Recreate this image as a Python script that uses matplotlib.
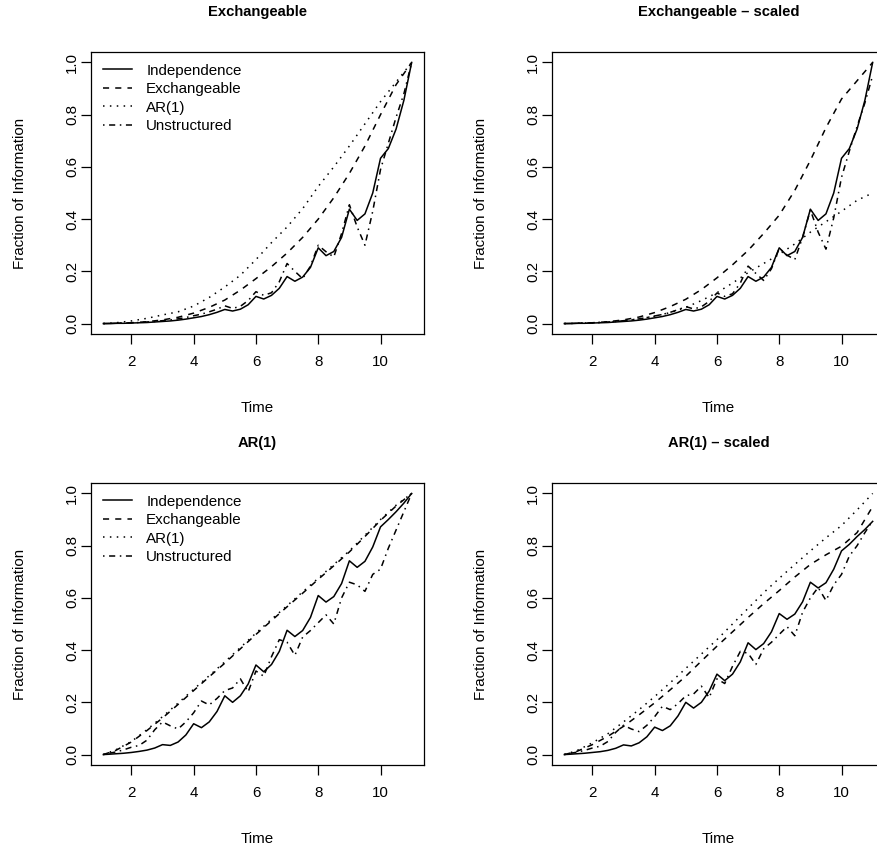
import matplotlib
matplotlib.use("Agg")
import matplotlib.pyplot as plt

plt.rcParams["font.family"] = ["Liberation Sans", "DejaVu Sans"]

# time grids
time_fine = [1.1, 1.25, 1.5, 1.75, 2.0, 2.25, 2.5, 2.75, 3.0, 3.25, 3.5, 3.75,
             4.0, 4.25, 4.5, 4.75, 5.0, 5.25, 5.5, 5.75, 6.0, 6.25, 6.5, 6.75,
             7.0, 7.25, 7.5, 7.75, 8.0, 8.25, 8.5, 8.75, 9.0, 9.25, 9.5, 9.75,
             10.0, 10.25, 10.5, 10.75, 11.0]
time_coarse = [1.1, 1.5, 2.0, 2.5, 3.0, 3.5, 4.0, 4.5, 5.0, 5.5, 6.0, 6.5,
               7.0, 7.5, 8.0, 8.5, 9.0, 9.5, 10.0, 10.5, 11.0]

# panel 1: Exchangeable
exch_indep = [0.000, 0.000, 0.001, 0.001, 0.002, 0.003, 0.004, 0.006, 0.008, 0.010, 0.013, 0.017,
              0.022, 0.027, 0.034, 0.043, 0.054, 0.048, 0.055, 0.072, 0.104, 0.094, 0.108, 0.135,
              0.180, 0.162, 0.178, 0.215, 0.290, 0.260, 0.276, 0.330, 0.438, 0.395, 0.420, 0.500,
              0.633, 0.670, 0.745, 0.855, 1.000]
exch_unstr = [0.000, 0.000, 0.001, 0.002, 0.003, 0.004, 0.006, 0.008, 0.011, 0.014, 0.018, 0.023,
              0.030, 0.036, 0.045, 0.055, 0.068, 0.058, 0.066, 0.088, 0.122, 0.108, 0.118, 0.160,
              0.230, 0.200, 0.172, 0.220, 0.300, 0.275, 0.255, 0.345, 0.455, 0.370, 0.300, 0.430,
              0.590, 0.690, 0.790, 0.880, 1.000]
exch_exch = [0.000, 0.001, 0.003, 0.007, 0.014, 0.024, 0.040, 0.062, 0.090, 0.128, 0.172, 0.218,
             0.270, 0.330, 0.400, 0.482, 0.575, 0.680, 0.800, 0.915, 1.000]
exch_ar1 = [0.000, 0.003, 0.010, 0.020, 0.033, 0.045, 0.067, 0.100, 0.140, 0.185, 0.245, 0.310,
            0.370, 0.440, 0.525, 0.600, 0.680, 0.765, 0.850, 0.925, 1.000]

# panel 2: Exchangeable - scaled
exsc_indep = exch_indep
exsc_unstr = [0.000, 0.000, 0.001, 0.002, 0.003, 0.004, 0.006, 0.008, 0.011, 0.014, 0.018, 0.023,
              0.029, 0.035, 0.043, 0.053, 0.065, 0.056, 0.064, 0.085, 0.117, 0.104, 0.114, 0.155,
              0.220, 0.192, 0.165, 0.210, 0.288, 0.262, 0.245, 0.330, 0.435, 0.350, 0.285, 0.405,
              0.560, 0.660, 0.755, 0.845, 0.950]
exsc_exch = [0.000, 0.001, 0.003, 0.007, 0.014, 0.025, 0.042, 0.065, 0.093, 0.130, 0.175, 0.225,
             0.280, 0.345, 0.415, 0.510, 0.625, 0.750, 0.860, 0.930, 1.000]
exsc_ar1 = [0.000, 0.001, 0.003, 0.006, 0.011, 0.018, 0.028, 0.042, 0.062, 0.088, 0.118, 0.155,
            0.195, 0.230, 0.265, 0.305, 0.350, 0.390, 0.430, 0.472, 0.500]

# panel 3: AR(1)
ar_indep = [0.000, 0.001, 0.003, 0.005, 0.008, 0.012, 0.017, 0.025, 0.038, 0.035, 0.048, 0.075,
            0.118, 0.103, 0.125, 0.165, 0.225, 0.200, 0.225, 0.270, 0.343, 0.317, 0.345, 0.395,
            0.476, 0.452, 0.475, 0.525, 0.609, 0.584, 0.605, 0.655, 0.742, 0.717, 0.740, 0.795,
            0.872, 0.900, 0.930, 0.963, 1.000]
ar_unstr = [0.000, 0.004, 0.010, 0.018, 0.028, 0.035, 0.055, 0.095, 0.125, 0.110, 0.098, 0.125,
            0.160, 0.205, 0.190, 0.215, 0.245, 0.255, 0.290, 0.240, 0.320, 0.300, 0.375, 0.440,
            0.430, 0.380, 0.450, 0.475, 0.505, 0.535, 0.500, 0.600, 0.660, 0.650, 0.625, 0.690,
            0.710, 0.790, 0.860, 0.930, 1.000]
ar_exch = [0.000, 0.016, 0.048, 0.092, 0.140, 0.192, 0.245, 0.298, 0.350, 0.405, 0.460, 0.513,
           0.566, 0.618, 0.671, 0.723, 0.776, 0.835, 0.897, 0.952, 1.000]
ar_ar1 = [0.000, 0.018, 0.050, 0.095, 0.145, 0.197, 0.250, 0.302, 0.355, 0.410, 0.465, 0.518,
          0.570, 0.623, 0.675, 0.728, 0.780, 0.840, 0.900, 0.955, 1.000]

# panel 4: AR(1) - scaled
arsc_indep = [0.000, 0.001, 0.003, 0.005, 0.008, 0.011, 0.016, 0.024, 0.037, 0.033, 0.045, 0.068,
              0.105, 0.092, 0.110, 0.148, 0.200, 0.178, 0.200, 0.243, 0.308, 0.283, 0.308, 0.355,
              0.428, 0.402, 0.425, 0.470, 0.540, 0.518, 0.538, 0.585, 0.660, 0.638, 0.658, 0.710,
              0.780, 0.805, 0.835, 0.862, 0.893]
arsc_unstr = [0.000, 0.004, 0.009, 0.016, 0.025, 0.032, 0.050, 0.085, 0.112, 0.098, 0.088, 0.112,
              0.145, 0.185, 0.172, 0.195, 0.225, 0.232, 0.262, 0.218, 0.290, 0.272, 0.338, 0.395,
              0.388, 0.345, 0.405, 0.430, 0.460, 0.490, 0.455, 0.545, 0.600, 0.640, 0.590, 0.650,
              0.690, 0.760, 0.800, 0.850, 0.895]
arsc_exch = [0.000, 0.012, 0.038, 0.070, 0.108, 0.152, 0.198, 0.248, 0.300, 0.358, 0.415, 0.470,
             0.525, 0.578, 0.628, 0.680, 0.728, 0.765, 0.798, 0.850, 0.950]
arsc_ar1 = [0.000, 0.015, 0.045, 0.080, 0.125, 0.172, 0.222, 0.275, 0.330, 0.385, 0.440, 0.500,
            0.560, 0.620, 0.675, 0.728, 0.780, 0.830, 0.877, 0.937, 1.000]

titles = ["Exchangeable", "Exchangeable \u2013 scaled", "AR(1)", "AR(1) \u2013 scaled"]
legend_labels = ["Independence", "Exchangeable", "AR(1)", "Unstructured"]
x_ticks = [2, 4, 6, 8, 10]
y_ticks = [0.0, 0.2, 0.4, 0.6, 0.8, 1.0]

panels = [
    (exch_indep, exch_exch, exch_ar1, exch_unstr),
    (exsc_indep, exsc_exch, exsc_ar1, exsc_unstr),
    (ar_indep, ar_exch, ar_ar1, ar_unstr),
    (arsc_indep, arsc_exch, arsc_ar1, arsc_unstr),
]

W, H = 877, 846
fig = plt.figure(figsize=(W / 100, H / 100), dpi=100)

# box positions in pixels: left, top; the right column runs past the image edge
boxes = [(91, 52), (552, 52), (91, 483), (552, 483)]
bw, bh = 333, 282

fs = 10.9
lw = 1.1
styles = [
    dict(linestyle="-"),
    dict(linestyle=(0, (4, 4))),
    dict(linestyle=(0, (1, 3.5))),
    dict(linestyle=(0, (1, 3, 4, 3))),
]

for i, (title, data) in enumerate(zip(titles, panels)):
    left, top = boxes[i]
    ax = fig.add_axes([left / W, (H - top - bh) / H, bw / W, bh / H])
    indep, exch, ar1, unstr = data
    h1, = ax.plot(time_fine, indep, color="black", lw=lw, **styles[0])
    h2, = ax.plot(time_coarse, exch, color="black", lw=lw, **styles[1])
    h3, = ax.plot(time_coarse, ar1, color="black", lw=lw, **styles[2])
    h4, = ax.plot(time_fine, unstr, color="black", lw=lw, **styles[3])

    ax.set_xlim(0.704, 11.396)
    ax.set_ylim(-0.04, 1.04)
    ax.set_xticks(x_ticks)
    ax.set_yticks(y_ticks)
    ax.set_yticklabels([f"{v:.1f}" for v in y_ticks], rotation=90, va="center")
    ax.tick_params(direction="out", length=7.2, width=0.9, labelsize=fs, colors="black")
    ax.tick_params(axis="x", pad=8)
    ax.tick_params(axis="y", pad=1.5)
    for s in ax.spines.values():
        s.set_linewidth(0.9)

    ax.text(0.5, 1 + 40 / bh, title, transform=ax.transAxes, ha="center", va="center",
            fontsize=10.6, fontweight="bold")
    ax.text(-71 / bw, 0.5, "Fraction of Information", transform=ax.transAxes,
            rotation=90, ha="center", va="center", fontsize=fs)
    ax.text(0.5, -74 / bh, "Time", transform=ax.transAxes, ha="center", va="center",
            fontsize=fs)

    if i in (0, 2):
        ax.legend([h1, h2, h3, h4], legend_labels, loc="upper left", frameon=False,
                  fontsize=fs, bbox_to_anchor=(12 / bw, 1 - 11.5 / bh), borderaxespad=0,
                  borderpad=0, handlelength=1.92, handletextpad=0.93, labelspacing=0.3)

fig.savefig("out.png", dpi=100, facecolor="white")
